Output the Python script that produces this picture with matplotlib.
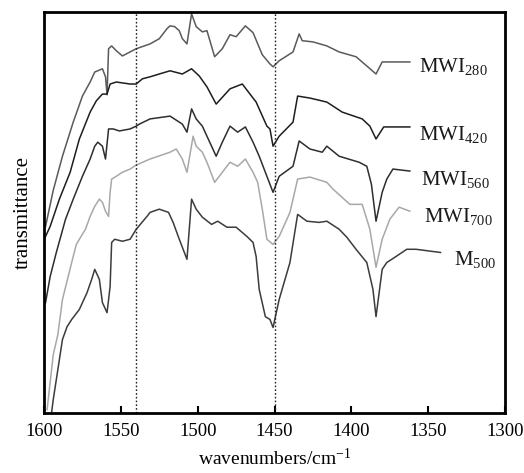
import matplotlib
matplotlib.use("Agg")
import matplotlib.pyplot as plt

plt.rcParams['font.family'] = ['Liberation Serif', 'DejaVu Serif']
plt.rcParams['mathtext.fontset'] = 'custom'
plt.rcParams['mathtext.rm'] = 'Liberation Serif'
plt.rcParams['mathtext.it'] = 'Liberation Serif'

# spectra (transmittance in arbitrary units, offset as drawn)
wn_280 = [1599, 1594, 1588, 1581, 1575, 1570, 1567, 1565, 1562, 1560, 1559, 1558, 1556, 1553,
          1549, 1544, 1540, 1531, 1525, 1520, 1518, 1515, 1512, 1510, 1507, 1504, 1501, 1497,
          1494, 1489, 1484, 1479, 1475, 1469, 1464, 1458, 1453, 1451, 1447, 1438, 1434, 1432,
          1425, 1416, 1408, 1397, 1390, 1384, 1380, 1373, 1362]
t_280 = [46.5, 55.5, 64, 72.5, 79, 82.5, 85, 85.3, 85.8, 83.8, 79.3, 90.8, 91.5, 90.3,
         89, 90, 90.8, 92, 93.3, 95.8, 96.5, 96.3, 95.3, 93.3, 92, 99.5, 96.3, 95,
         95.3, 88.8, 90.8, 94.3, 93.8, 96.5, 94.8, 89.3, 87, 86.3, 87.8, 90, 94.5, 92.8,
         92.5, 91.5, 90, 88.8, 86.5, 84.5, 87.5, 87.5, 87.5]

wn_420 = [1599, 1596, 1590, 1583, 1577, 1570, 1566, 1562, 1559, 1557, 1553, 1544, 1540, 1536,
          1531, 1525, 1518, 1510, 1504, 1499, 1494, 1488, 1479, 1471, 1462, 1455, 1453, 1451,
          1447, 1438, 1435, 1427, 1416, 1406, 1393, 1388, 1384, 1379, 1362]
t_420 = [44, 46.5, 53.3, 60, 68.3, 75, 77.8, 79.5, 79.5, 82, 82.5, 82, 82, 83.3,
         83.8, 84.5, 85.3, 84.5, 85.8, 84, 81.3, 77, 80.8, 82, 77.5, 71.5, 70.8, 66.5,
         69, 72.5, 79, 78.5, 77.5, 75, 73.3, 71.5, 68.3, 71.3, 71.3]

wn_560 = [1599, 1596, 1592, 1586, 1581, 1575, 1570, 1567, 1565, 1562, 1560, 1558, 1555, 1551,
          1544, 1540, 1538, 1531, 1518, 1510, 1507, 1504, 1501, 1497, 1494, 1488, 1484, 1479,
          1474, 1469, 1464, 1460, 1455, 1451, 1447, 1438, 1434, 1427, 1419, 1416, 1408, 1395,
          1390, 1387, 1384, 1380, 1377, 1373, 1362]
t_560 = [27.5, 34, 40, 48.3, 53.3, 59, 63.3, 66.5, 67.5, 66.5, 63.3, 70.8, 70.8, 70.3,
         70.8, 71.5, 72, 73.3, 74, 72, 70, 75.8, 73.3, 71.5, 69, 64, 67.5, 71.5,
         70, 71.3, 67.5, 64, 59, 55, 59, 61.5, 67.8, 65.8, 65, 66.5, 64, 62.5,
         61.5, 57, 47.8, 55, 58.3, 60.8, 60.3]

wn_700 = [1598, 1594, 1591, 1588, 1582, 1579, 1577, 1573, 1570, 1567, 1564, 1562, 1560, 1558,
          1557, 1556, 1553, 1549, 1544, 1540, 1531, 1518, 1514, 1510, 1507, 1503, 1501, 1497,
          1494, 1489, 1484, 1479, 1474, 1469, 1464, 1461, 1458, 1455, 1451, 1447, 1440, 1435,
          1427, 1416, 1412, 1401, 1393, 1388, 1384, 1380, 1375, 1369, 1362]
t_700 = [0.8, 14.5, 19.5, 28.3, 37.5, 42, 43.3, 45.8, 49, 51.5, 53.3, 52.5, 50.3, 49,
         55, 58.3, 59, 60, 60.8, 61.8, 63.3, 65, 65.8, 63.3, 60, 69, 66.5, 65,
         62.5, 57.5, 60, 62.5, 61.5, 63.3, 60, 57.5, 50.8, 43.3, 42, 44, 50, 58.3,
         58.8, 57.5, 55.8, 52, 52, 45.8, 36.3, 43.3, 48.3, 51.3, 50.3]

wn_m500 = [1595, 1594, 1591, 1588, 1585, 1582, 1577, 1572, 1569, 1567, 1564, 1562, 1559, 1557,
           1556, 1554, 1549, 1544, 1540, 1533, 1531, 1525, 1519, 1516, 1512, 1507, 1504, 1501,
           1497, 1491, 1487, 1481, 1475, 1468, 1464, 1462, 1460, 1456, 1453, 1451, 1447, 1440,
           1435, 1429, 1421, 1416, 1408, 1403, 1397, 1390, 1386, 1384, 1380, 1377, 1371, 1364,
           1358, 1342]
t_m500 = [0.3, 3.3, 10.8, 18.3, 21.5, 23.3, 25.8, 30, 33.3, 35.8, 33.3, 27.5, 25, 31.5,
          42.5, 43.3, 42.8, 43.3, 45.8, 49, 50, 50.8, 50, 47.5, 43.3, 38.3, 53.3, 50.8,
          48.8, 47, 47.8, 46.3, 46.3, 44, 42.5, 39, 30.8, 24, 23.3, 21.3, 28.3, 37.5,
          49.5, 47.8, 47.5, 47.8, 45.8, 43.8, 40.8, 37.5, 30.8, 24, 35.8, 37.5, 39, 40.8,
          40.8, 40]

series = [
    (wn_280, t_280, '#5a5a5a', 'MWI$_{280}$', 1356, 86.3),
    (wn_420, t_420, '#1e1e1e', 'MWI$_{420}$', 1356, 69.5),
    (wn_560, t_560, '#2e2e2e', 'MWI$_{560}$', 1355, 58.3),
    (wn_700, t_700, '#a8a8a8', 'MWI$_{700}$', 1353, 49),
    (wn_m500, t_m500, '#3c3c3c', 'M$_{500}$', 1333, 38.3),
]
marker_lines = [1540, 1450]

fig = plt.figure(figsize=(5.24, 4.73), dpi=100)
ax = fig.add_axes([0.084, 0.127, 0.88, 0.848])

for wn, t, col, name, lx, ly in series:
    ax.plot(wn, t, color=col, lw=1.1)
    ax.text(lx, ly, name, fontsize=15, ha='left', va='center', color='#1a1a1a')

for v in marker_lines:
    ax.axvline(v, color='#222222', ls=(0, (1.2, 1.5)), lw=1.0)

ax.set_xlim(1600, 1300)
ax.set_ylim(0, 100)
ax.set_xticks([1600, 1550, 1500, 1450, 1400, 1350, 1300])
ax.tick_params(axis='x', direction='in', length=5, width=1.5, labelsize=13.5, pad=7)
ax.set_yticks([])
for s in ax.spines.values():
    s.set_linewidth(2)

ax.set_xlabel('wavenumbers/cm$^{-1}$', fontsize=14, labelpad=6)
ax.set_ylabel('transmittance', fontsize=15, labelpad=8)

fig.savefig('out.png', dpi=100)
